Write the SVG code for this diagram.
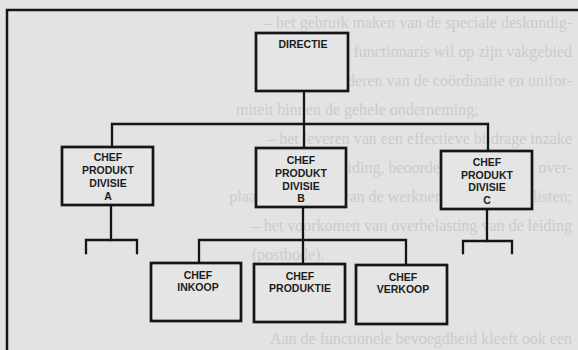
<svg xmlns="http://www.w3.org/2000/svg" width="578" height="350" viewBox="0 0 578 350">
<style>
.bg{fill:#e3e3e3}
.bleed{font-family:"Liberation Serif","Times New Roman",serif;font-size:16px;fill:#cbcbcb}
.r{text-anchor:end}
.box{fill:#e5e5e5;stroke:#151515;stroke-width:2.7}
.lbl{font-family:"Liberation Sans",Arial,Helvetica,sans-serif;font-size:10.5px;font-weight:bold;fill:#1c1c1c;text-anchor:middle}
.wire{fill:none;stroke:#151515;stroke-width:2.3;stroke-linecap:square}
.frame{fill:none;stroke:#151515;stroke-width:2.5}
</style>
<rect class="bg" x="0" y="0" width="578" height="350"/>
<g id="bleed-through">
<text class="bleed r" x="572" y="28">– het gebruik maken van de speciale deskundig-</text>
<text class="bleed r" x="572" y="57">heid van de functionaris wil op zijn vakgebied</text>
<text class="bleed r" x="572" y="86">– het bevorderen van de coördinatie en unifor-</text>
<text class="bleed" x="236" y="115">miteit binnen de gehele onderneming;</text>
<text class="bleed r" x="572" y="144">– het leveren van een effectieve bijdrage inzake</text>
<text class="bleed r" x="572" y="173">selectie, opleiding, beoordeling, promotie, over-</text>
<text class="bleed r" x="572" y="202">plaatsingen, e.d., van de werknemers vakspecialisten;</text>
<text class="bleed r" x="572" y="231">– het voorkomen van overbelasting van de leiding</text>
<text class="bleed" x="252" y="260">(postbode).</text>
<text class="bleed r" x="572" y="344">Aan de functionele bevoegdheid kleeft ook een</text>
</g>
<path class="frame" d="M7,350 V10 H578"/>
<g id="connectors">
<path class="wire" d="M304,91 V124"/>
<path class="wire" d="M112,147 V124 H488 V151"/>
<path class="wire" d="M304,124 V148"/>
<path class="wire" d="M111,205 V240"/>
<path class="wire" d="M86,253 V240 H137 V253"/>
<path class="wire" d="M487,209 V241"/>
<path class="wire" d="M463,253 V241 H512 V253"/>
<path class="wire" d="M303,207 V264"/>
<path class="wire" d="M199,263 V240 H406 V265"/>
</g>
<g id="directie">
<rect class="box" x="256" y="33" width="92" height="58"/>
<text class="lbl" x="303" y="48">DIRECTIE</text>
</g>
<g id="divisie-a">
<rect class="box" x="62" y="147" width="91" height="58"/>
<text class="lbl" x="108" y="161">CHEF</text>
<text class="lbl" x="108" y="174">PRODUKT</text>
<text class="lbl" x="108" y="187">DIVISIE</text>
<text class="lbl" x="108" y="200">A</text>
</g>
<g id="divisie-b">
<rect class="box" x="256" y="148" width="90" height="59"/>
<text class="lbl" x="301" y="164">CHEF</text>
<text class="lbl" x="301" y="177">PRODUKT</text>
<text class="lbl" x="301" y="190">DIVISIE</text>
<text class="lbl" x="301" y="202">B</text>
</g>
<g id="divisie-c">
<rect class="box" x="441" y="151" width="91" height="58"/>
<text class="lbl" x="487" y="166">CHEF</text>
<text class="lbl" x="487" y="178.5">PRODUKT</text>
<text class="lbl" x="487" y="191">DIVISIE</text>
<text class="lbl" x="487" y="203.5">C</text>
</g>
<g id="inkoop">
<rect class="box" x="151" y="263" width="90" height="58"/>
<text class="lbl" x="198" y="279">CHEF</text>
<text class="lbl" x="198" y="291">INKOOP</text>
</g>
<g id="produktie">
<rect class="box" x="254" y="264" width="91" height="58"/>
<text class="lbl" x="300" y="280">CHEF</text>
<text class="lbl" x="300" y="292">PRODUKTIE</text>
</g>
<g id="verkoop">
<rect class="box" x="356" y="265" width="91" height="59"/>
<text class="lbl" x="403" y="281">CHEF</text>
<text class="lbl" x="403" y="293">VERKOOP</text>
</g>
</svg>
